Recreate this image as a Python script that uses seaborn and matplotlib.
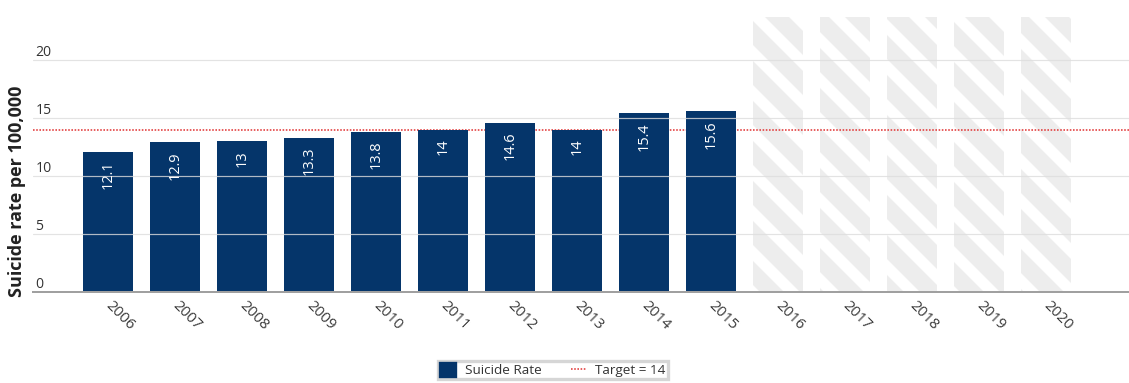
import numpy as np
import pandas as pd
import matplotlib
matplotlib.use("Agg")
import matplotlib.pyplot as plt
from matplotlib.patches import Patch
from matplotlib.lines import Line2D
import seaborn as sns

# ---- data ----
years = [str(y) for y in range(2006, 2021)]
observed_years = ["2006", "2007", "2008", "2009", "2010",
                  "2011", "2012", "2013", "2014", "2015"]
rates = [12.1, 12.9, 13, 13.3, 13.8, 14, 14.6, 14, 15.4, 15.6]
rate_labels = ["12.1", "12.9", "13", "13.3", "13.8", "14", "14.6", "14", "15.4", "15.6"]
future_years = ["2016", "2017", "2018", "2019", "2020"]
target = 14
y_ticks = [0, 5, 10, 15, 20]
y_max = 23.7

# ---- sizing helpers (work in pixels) ----
DPI = 240
W, H = 1129, 383
def pt(px):
    return px * 72.0 / DPI

sns.set_theme(style="white")
plt.rcParams["font.family"] = ["Open Sans", "DejaVu Sans"]
plt.rcParams["hatch.linewidth"] = pt(17)

NAVY = "#05356a"
TEXT = "#333333"
RED = "#e23a3a"

fig = plt.figure(figsize=(W / DPI, H / DPI), dpi=DPI)
ax = fig.add_axes([33 / W, (H - 292) / H, (W - 33) / W, (292 - 17) / H])

obs = pd.DataFrame({"year": observed_years, "rate": rates})
fut = pd.DataFrame({"year": future_years, "rate": [y_max + 5] * len(future_years)})

# projected years: hatched placeholders over the full height
sns.barplot(data=fut, x="year", y="rate", order=years, ax=ax,
            color="white", edgecolor="#ededed", linewidth=0,
            hatch="\\\\", width=0.746, zorder=1)
for p in ax.patches:
    p.set_facecolor("white")
    p.set_edgecolor("#ededed")

# target line (behind the bars)
ax.axhline(target, color=RED, lw=pt(1.6), ls=(0, (1, 1)), zorder=1.5)

sns.barplot(data=obs, x="year", y="rate", order=years, ax=ax,
            color=NAVY, saturation=1, width=0.746, linewidth=0, zorder=2)

ax.set_xlim(-1.119, 15.24)
ax.set_ylim(0, y_max)

# horizontal gridlines drawn faintly over the bars
for v in y_ticks[1:]:
    ax.axhline(v, color="#dddddd", lw=pt(1.2), zorder=3, alpha=0.8)
ax.set_yticks([])
for v in y_ticks:
    ax.text(0.002, v, str(v), transform=ax.get_yaxis_transform(),
            ha="left", va="bottom", fontsize=pt(14), color=TEXT)

# value labels inside bars
for i, (v, lab) in enumerate(zip(rates, rate_labels)):
    ax.annotate(lab, (i, v), xytext=(0, -pt(9)), textcoords="offset points",
                rotation=90, ha="center", va="top", color="white",
                fontsize=pt(14.5), zorder=4)

for s in ["top", "right", "left"]:
    ax.spines[s].set_visible(False)
ax.spines["bottom"].set_color("#a0a0a0")
ax.spines["bottom"].set_linewidth(pt(2))
ax.spines["bottom"].set_zorder(5)

ax.set_xlabel("")
ax.tick_params(axis="x", length=0, pad=pt(12), labelsize=pt(15), labelcolor="#3a3a3a")
for lab in ax.get_xticklabels():
    lab.set_rotation(-45)
    lab.set_ha("left")
    lab.set_va("center")
    lab.set_rotation_mode("anchor")

ax.set_ylabel("Suicide rate per 100,000", fontsize=pt(18), fontweight="bold",
              color="#222222")
ax.yaxis.set_label_coords((26 - 33) / (W - 33), 0.367)

handles = [Patch(facecolor=NAVY, edgecolor=NAVY, label="Suicide Rate"),
           Line2D([0], [0], color=RED, lw=pt(1.6), ls=(0, (1, 1)),
                  label="Target = 14")]
fig.legend(handles=handles, loc="upper center",
           bbox_to_anchor=(553 / W, (H - 361) / H), ncol=2,
           fontsize=pt(13.5), frameon=True, fancybox=False,
           edgecolor="#cccccc", handlelength=1.1, handleheight=1.15,
           columnspacing=2.2, handletextpad=0.7, borderpad=0.15,
           borderaxespad=0, labelcolor=TEXT)

fig.savefig("out.png", dpi=DPI)
